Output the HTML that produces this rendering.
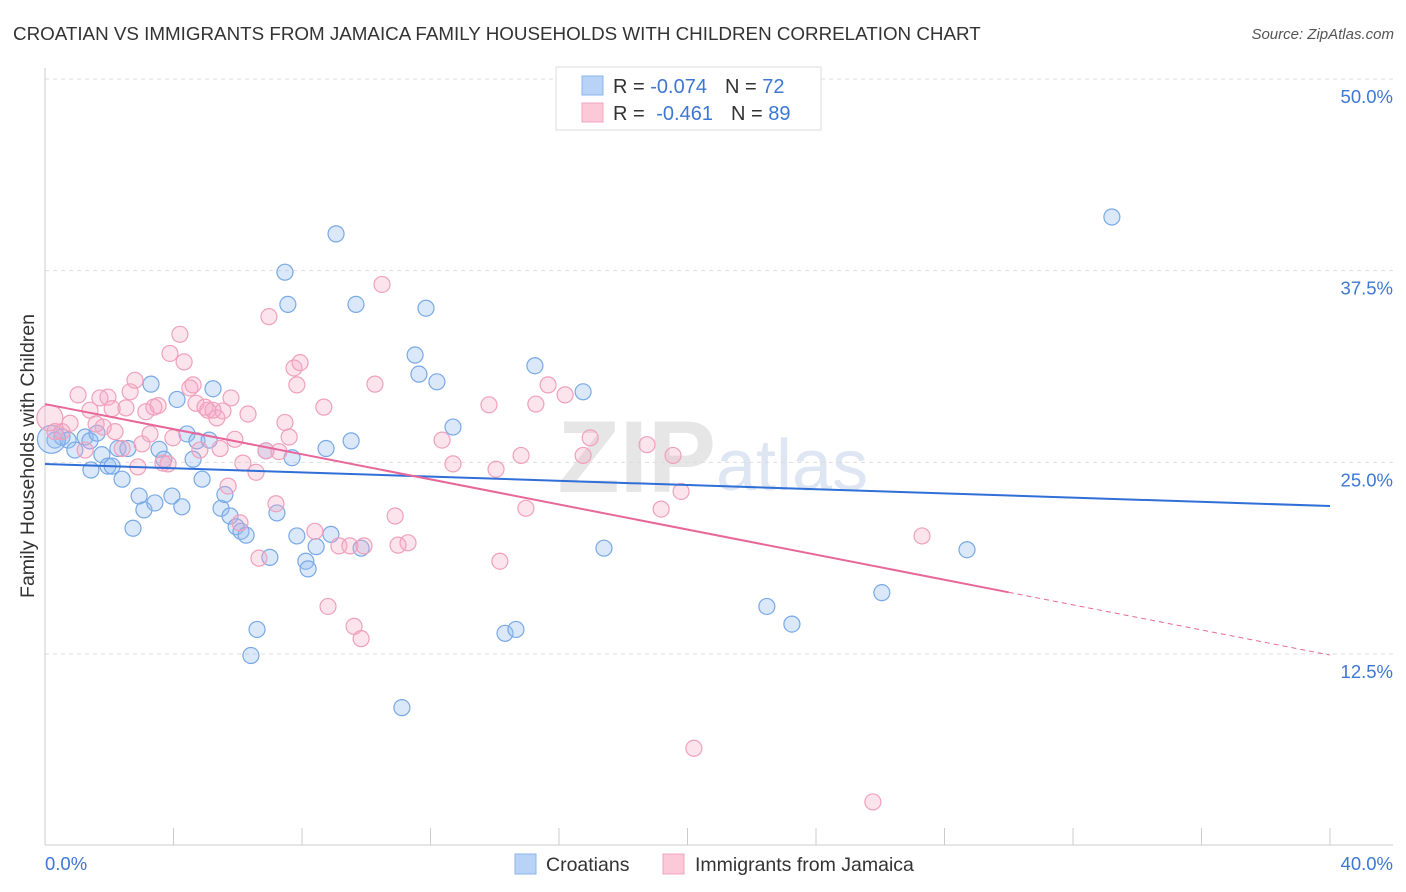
<!DOCTYPE html>
<html><head><meta charset="utf-8"><style>
body{margin:0;background:#fff;}
svg{display:block;font-family:"Liberation Sans",sans-serif;}
</style></head><body>
<svg id="chart" width="1406" height="892">
<text x="13" y="40" font-size="18.8" fill="#333">CROATIAN VS IMMIGRANTS FROM JAMAICA FAMILY HOUSEHOLDS WITH CHILDREN CORRELATION CHART</text>
<text x="1394" y="39" font-size="15" fill="#555" font-style="italic" text-anchor="end">Source: ZipAtlas.com</text>
<text x="0" y="0" transform="translate(34,456) rotate(-90)" font-size="19.5" fill="#333" text-anchor="middle">Family Households with Children</text>
<text x="716" y="492" font-size="102" fill="#e6e6e6" text-anchor="end" font-weight="bold">ZIP</text>
<text x="716" y="490" font-size="72" fill="#dde6f2">atlas</text>
<g id="grid"></g><g id="pts"></g><g id="lines"></g>
<g>
<rect x="556" y="67" width="265" height="63" fill="#fff" stroke="#ddd"/>
<rect x="582" y="76" width="21" height="19" fill="#b8d3f5" stroke="#8ab4ea"/>
<rect x="582" y="103" width="21" height="19" fill="#fbc9d8" stroke="#f0a5bd"/>
<text x="613" y="93" font-size="20" fill="#333">R = <tspan fill="#3d77d4">-0.074</tspan><tspan dx="18">N = </tspan><tspan fill="#3d77d4">72</tspan></text>
<text x="613" y="120" font-size="20" fill="#333">R = <tspan fill="#3d77d4" dx="6">-0.461</tspan><tspan dx="18">N = </tspan><tspan fill="#3d77d4">89</tspan></text>
</g>
<g>
<rect x="515" y="854" width="21" height="20" fill="#b8d3f5" stroke="#8ab4ea"/>
<text x="546" y="871" font-size="19.5" fill="#333">Croatians</text>
<rect x="663" y="854" width="21" height="20" fill="#fbc9d8" stroke="#f0a5bd"/>
<text x="695" y="871" font-size="19.5" fill="#333">Immigrants from Jamaica</text>
</g>
</svg>
<script>
const yTicks=[12.5,25,37.5,50];
const yTickLabels=["12.5%","25.0%","37.5%","50.0%"];
const xTicks=[0,4,8,12,16,20,24,28,32,36,40];
const blueX=[0.31,0.53,0.72,0.93,1.25,1.40,1.62,1.77,1.43,1.96,2.09,2.27,2.40,2.58,2.74,2.93,3.08,3.30,3.42,3.55,3.70,3.95,4.11,4.26,4.42,4.61,4.73,4.89,5.11,5.23,5.48,5.60,5.76,5.95,6.10,6.26,6.60,6.41,6.88,7.00,7.22,7.47,7.56,7.69,7.84,8.12,8.19,8.44,8.75,8.90,9.06,9.53,9.68,9.84,11.11,11.52,11.64,11.86,12.20,12.70,14.32,14.66,15.25,16.75,17.40,22.47,23.25,26.05,28.70,33.21,0.2];
const blueY=[26.45,26.65,26.45,25.8,26.65,26.4,26.9,25.5,24.5,24.75,24.75,25.9,23.9,25.9,20.7,22.8,21.9,30.1,22.35,25.85,25.2,22.8,29.1,22.1,26.85,25.2,26.4,23.9,26.45,29.8,22.0,22.9,21.5,20.8,20.5,20.25,14.1,12.4,25.75,18.8,21.7,37.4,35.3,25.3,20.2,18.55,18.05,19.5,25.9,20.3,39.9,26.4,35.3,19.4,9.0,32.0,30.75,35.05,30.25,27.3,13.85,14.1,31.3,29.6,19.4,15.6,14.45,16.5,19.3,41.0,26.5];
const pinkX=[0.15,0.31,0.53,0.78,1.03,1.25,1.40,1.59,1.71,1.81,1.96,2.09,2.18,2.40,2.52,2.65,2.80,2.89,3.02,3.14,3.27,3.39,3.52,3.67,3.83,3.89,3.98,4.20,4.33,4.51,4.61,4.70,4.82,4.98,5.07,5.23,5.35,5.45,5.54,5.70,5.79,5.91,6.07,6.16,6.32,6.57,6.66,6.88,6.97,7.19,7.28,7.47,7.60,7.75,7.84,7.94,8.40,8.68,8.81,9.15,9.49,9.62,9.84,9.93,10.27,10.49,10.90,10.99,11.30,12.36,12.70,13.82,14.04,14.16,14.82,14.97,15.28,15.66,16.19,16.75,16.97,18.74,19.18,19.55,19.80,20.20,25.77,27.30];
const pinkY=[27.9,27.0,27.0,27.55,29.4,25.8,28.4,27.5,29.2,27.3,29.25,28.5,27.0,25.9,28.55,29.6,30.35,24.7,26.2,28.3,26.85,28.6,28.7,24.95,24.9,32.1,26.6,33.35,31.55,29.85,30.05,28.85,25.8,28.6,28.4,28.4,27.9,25.9,28.35,23.45,29.2,26.5,21.05,24.95,28.15,24.35,18.75,25.75,34.5,22.3,25.7,27.6,26.65,31.15,30.05,31.5,20.5,28.6,15.6,19.55,19.55,14.3,13.5,19.55,30.1,36.6,21.5,19.6,19.75,26.45,24.9,28.75,24.55,18.55,25.45,22.0,28.8,30.05,29.4,25.45,26.6,26.15,21.95,25.45,23.1,6.35,2.85,20.2];
const blueTrend=[24.89,22.15];
const pinkTrend=[28.8,12.43];
const pinkSolidEnd=30;
const NS="http://www.w3.org/2000/svg";
const X=v=>45+v*32.125, Y=v=>79+(50-v)*15.333;
function mk(tag,attrs,parent){const e=document.createElementNS(NS,tag);for(const k in attrs)e.setAttribute(k,attrs[k]);parent.appendChild(e);return e;}
const grid=document.getElementById('grid');
yTicks.forEach((t,i)=>{
  const l=mk('line',{x1:45,x2:1393,y1:Y(t),y2:Y(t),stroke:'#ddd','stroke-dasharray':'4,4'},grid);
  
  
  const tx=mk('text',{x:1393,y:Y(t)+24,'font-size':18.5,fill:'#3d77d4','text-anchor':'end'},grid);
  tx.textContent=yTickLabels[i];
  
  
});
let ax=mk('line',{x1:45,x2:1393,y1:845,y2:845,stroke:'#ccc'},grid);


ax=mk('line',{x1:45,x2:45,y1:68,y2:845,stroke:'#ccc'},grid);


xTicks.forEach(t=>{const l=mk('line',{x1:X(t),x2:X(t),y1:828,y2:845,stroke:'#ccc'},grid);
  
  });
let xl=mk('text',{x:45,y:870,'font-size':18.5,fill:'#3d77d4'},grid);xl.textContent='0.0%';


xl=mk('text',{x:1393,y:870,'font-size':18.5,fill:'#3d77d4','text-anchor':'end'},grid);xl.textContent='40.0%';


const pts=document.getElementById('pts');
blueX.forEach((x,i)=>{const big=i===blueX.length-1;
  const c=mk('circle',{cx:X(x),cy:Y(blueY[i]),r:big?14:8,fill:'rgba(150,190,240,0.35)',stroke:'#78a9e6','stroke-width':1.2},pts);
  
  });
pinkX.forEach((x,i)=>{
  const c=mk('circle',{cx:X(x),cy:Y(pinkY[i]),r:i===0?13:8,fill:'rgba(245,165,195,0.3)',stroke:'#f0a0bb','stroke-width':1.2},pts);
  
  });
const lines=document.getElementById('lines');
let l=mk('line',{x1:X(0),y1:Y(blueTrend[0]),x2:X(40),y2:Y(blueTrend[1]),stroke:'#2f6fd6','stroke-width':2},lines);


const pAt=v=>pinkTrend[0]+(pinkTrend[1]-pinkTrend[0])*v/40;
l=mk('line',{x1:X(0),y1:Y(pinkTrend[0]),x2:X(pinkSolidEnd),y2:Y(pAt(pinkSolidEnd)),stroke:'#e8679a','stroke-width':2},lines);


l=mk('line',{x1:X(pinkSolidEnd),y1:Y(pAt(pinkSolidEnd)),x2:X(40),y2:Y(pinkTrend[1]),stroke:'#e8679a','stroke-width':1,'stroke-dasharray':'5,4'},lines);


</script>
</body></html>
